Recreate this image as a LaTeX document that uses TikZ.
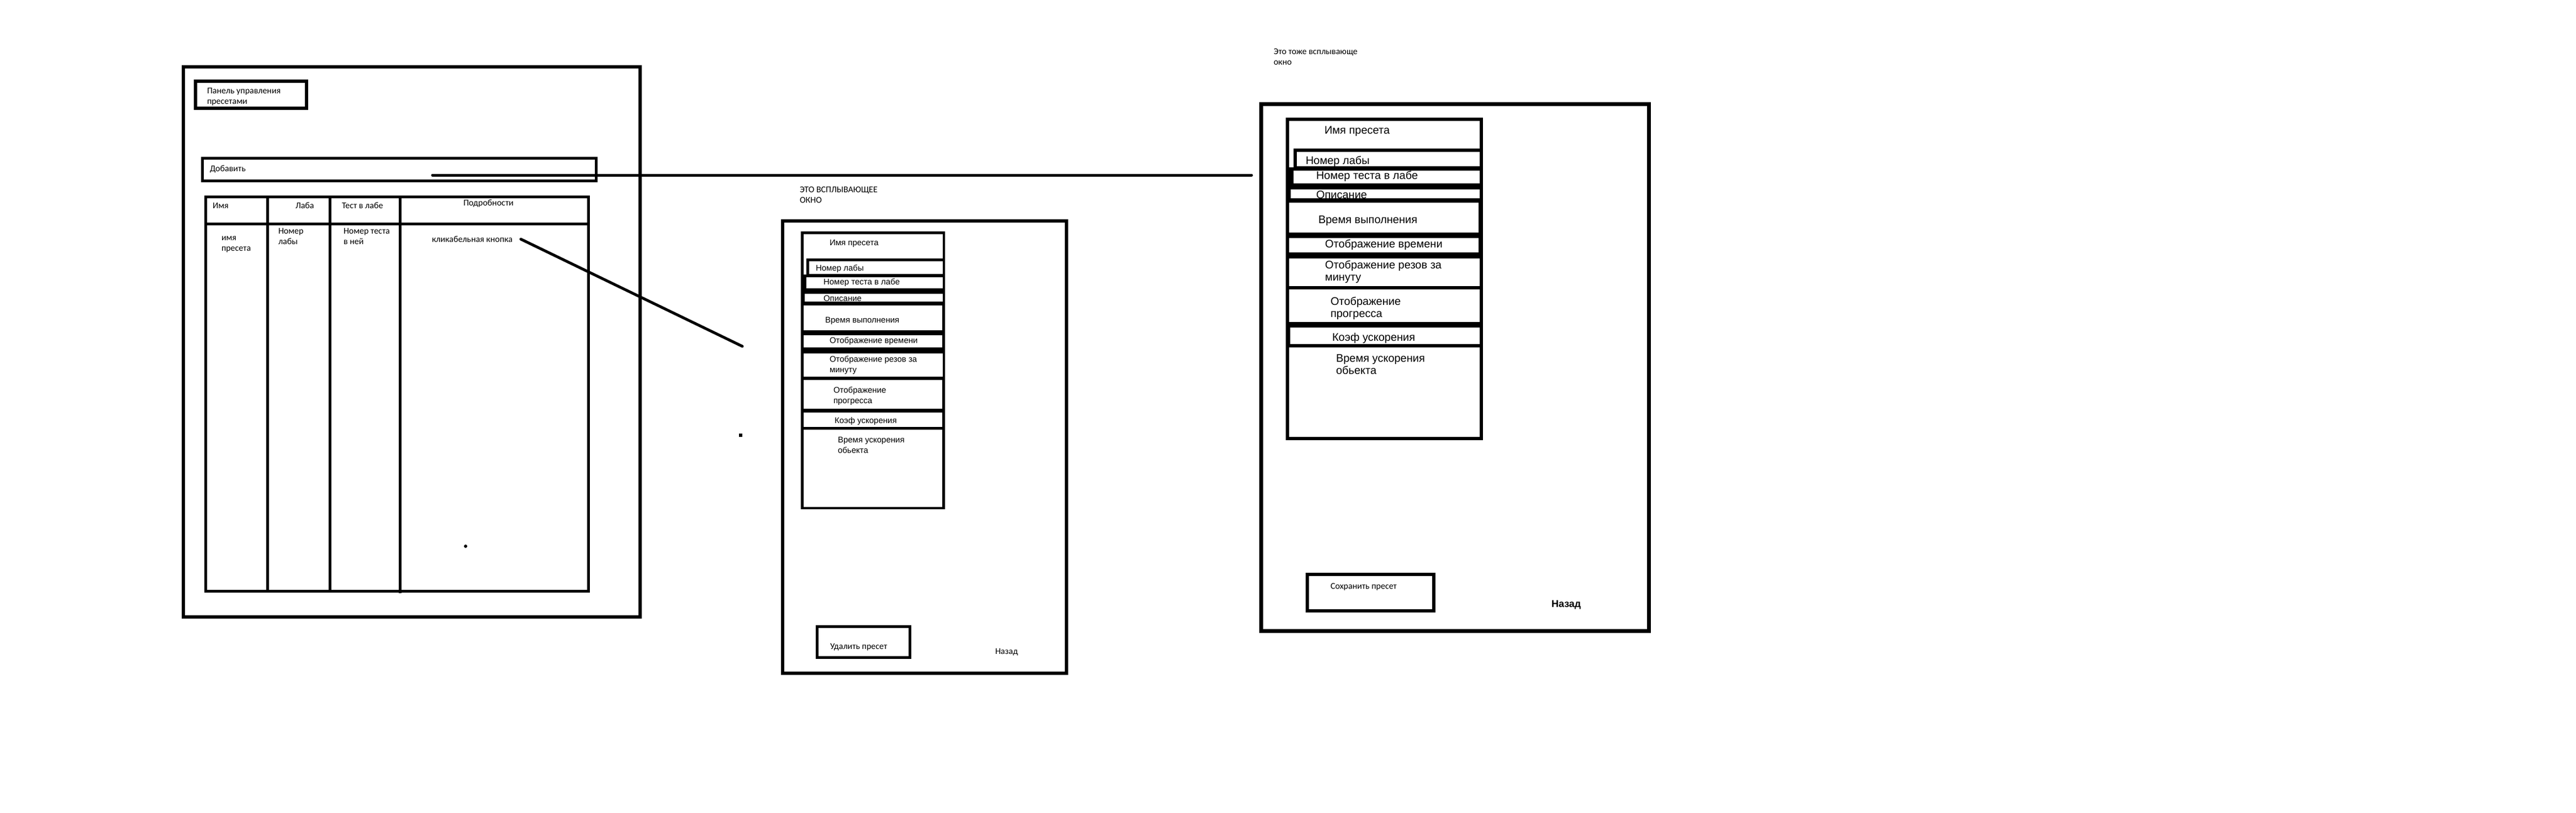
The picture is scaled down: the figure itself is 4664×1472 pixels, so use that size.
\documentclass[tikz,border=0pt]{standalone}
\usepackage{fontspec}
\setmainfont{Carlito}
\newfontfamily\lsans{Liberation Sans}
\newcommand\mkbox[6]{\node[#1, anchor=north west, minimum width={(#5-#3)*1pt}, minimum height={(#6-#4)*1pt}] (#2) at (#3,#4) {};}
\begin{document}
\begin{tikzpicture}[x=1pt,y=-1pt,
  shp/.style={inner sep=0pt, outer sep=0pt, rectangle},
  win/.style={shp, draw=black, line width=6pt},
  thinwin/.style={shp, draw=black, line width=5pt},
  thickwin/.style={shp, draw=black, line width=7pt},
  blk/.style={shp, fill=black},
  wht/.style={shp, fill=white},
  tline/.style={line width=5pt},
  wire/.style={line width=5pt, line cap=round},
  lbl/.style={inner sep=0pt, outer sep=0pt, anchor=west, align=left, font=\fontsize{16}{19}\selectfont},
  itma/.style={lbl, font=\lsans\fontsize{15}{19}\selectfont},
  itmb/.style={lbl, font=\lsans\fontsize{20}{22}\selectfont},
  backbold/.style={lbl, font=\lsans\bfseries\fontsize{18}{22}\selectfont}]
\fill[white] (0,0) rectangle (4664,1472);
\path[use as bounding box] (0,0) rectangle (4664,1472);

% ---------- main window ----------
\mkbox{win}{main}{332}{121}{1159}{1117}
\mkbox{win}{title}{354}{147}{555}{196}
\node[lbl] (titletxt) at (375,175) {Панель управления\\пресетами};
\mkbox{thinwin}{add}{366}{286}{1079}{327}
\node[lbl] (addtxt) at (380,306) {Добавить};
\mkbox{thinwin}{tbl}{372}{356}{1065}{1070}
\draw[tline] (372,405) -- (1065,405);
\draw[tline] (484,356) -- (484,1070);
\draw[tline] (597,356) -- (597,1070);
\draw[tline] (724,356) -- (724,1074);
\node[lbl] (h1) at (385,372) {Имя};
\node[lbl] (h2) at (535,372) {Лаба};
\node[lbl] (h3) at (619,372) {Тест в лабе};
\node[lbl] (h4) at (839,368) {Подробности};
\node[lbl] (c1) at (401,442) {имя\\пресета};
\node[lbl] (c2) at (504,428) {Номер\\лабы};
\node[lbl] (c3) at (622,428) {Номер теста\\в ней};
\node[lbl] (klik) at (782,433) {кликабельная кнопка};
\fill (843,989) circle (3pt);

% ---------- popup 1 ----------
\node[lbl] (p1lbl) at (1448,353) {ЭТО ВСПЛЫВАЮЩЕЕ\\ОКНО};
\mkbox{win}{p1}{1417}{400}{1931}{1219}
\mkbox{blk}{l1}{1450}{419}{1711}{922}
\mkbox{wht}{a1}{1455}{424}{1707}{468}
\mkbox{wht}{a1s}{1455}{466}{1460}{497}
\mkbox{wht}{a2}{1465}{473}{1707}{496}
\mkbox{wht}{a3}{1460}{502}{1707}{522}
\mkbox{wht}{a4}{1457}{532}{1707}{546}
\mkbox{wht}{a5}{1455}{553}{1706}{598}
\mkbox{wht}{a6}{1455}{607}{1706}{629}
\mkbox{wht}{a7}{1455}{640}{1707}{682}
\mkbox{wht}{a8}{1455}{688}{1706}{740}
\mkbox{wht}{a9}{1455}{747}{1706}{773}
\mkbox{wht}{a10}{1455}{778}{1706}{918}
\node[itma] (t1) at (1502,441) {Имя пресета};
\node[itma] (t2) at (1477,487) {Номер лабы};
\node[itma] (t3) at (1491,512) {Номер теста в лабе};
\node[itma] (t4) at (1491,540) {Описание};
\node[itma] (t5) at (1494,581) {Время выполнения};
\node[itma] (t6) at (1502,618) {Отображение времени};
\node[itma] (t7) at (1502,661) {Отображение резов за\\минуту};
\node[itma] (t8) at (1509,717) {Отображение\\прогресса};
\node[itma] (t9) at (1511,763) {Коэф ускорения};
\node[itma] (t10) at (1517,806) {Время ускорения\\обьекта};
\mkbox{thinwin}{del}{1479}{1134}{1647}{1190}
\node[lbl] (deltxt) at (1503,1172) {Удалить пресет};
\node[lbl] (back1) at (1802,1181) {Назад};
\fill (1338,785) rectangle (1344,791);

% ---------- popup 2 ----------
\node[lbl] (p2lbl) at (2306,103) {Это тоже всплывающе\\окно};
\mkbox{thickwin}{p2}{2283}{188}{2985}{1142}
\mkbox{blk}{l2}{2328}{213}{2685}{797}
\mkbox{wht}{b1}{2334}{219}{2679}{269}
\mkbox{wht}{b1s}{2334}{267}{2342}{303}
\mkbox{wht}{b2}{2348}{275}{2679}{301}
\mkbox{wht}{b3}{2342}{309}{2679}{332}
\mkbox{wht}{b4}{2337}{343}{2679}{359}
\mkbox{wht}{b5}{2334}{367}{2677}{421}
\mkbox{wht}{b6}{2334}{431}{2677}{457}
\mkbox{wht}{b7}{2334}{468}{2679}{518}
\mkbox{wht}{b8}{2334}{524}{2679}{583}
\mkbox{wht}{b9}{2336}{593}{2679}{623}
\mkbox{wht}{b10}{2334}{629}{2679}{791}
\node[itmb] (u1) at (2398,238) {Имя пресета};
\node[itmb] (u2) at (2364,292) {Номер лабы};
\node[itmb] (u3) at (2383,319) {Номер теста в лабе};
\node[itmb] (u4) at (2383,353) {Описание};
\node[itmb] (u5) at (2387,400) {Время выполнения};
\node[itmb] (u6) at (2399,443) {Отображение времени};
\node[itmb] (u7) at (2399,492) {Отображение резов за\\минуту};
\node[itmb] (u8) at (2409,558) {Отображение\\прогресса};
\node[itmb] (u9) at (2412,612) {Коэф ускорения};
\node[itmb] (u10) at (2419,660) {Время ускорения\\обьекта};
\mkbox{win}{save}{2367}{1040}{2596}{1106}
\node[lbl] (savetxt) at (2409,1063) {Сохранить пресет};
\node[backbold] (back2) at (2809,1095) {Назад};

% ---------- connectors ----------
\coordinate (addfrom) at (783,317);
\draw[wire, shorten >=17pt] (addfrom) -- (addfrom -| p2.west);
\coordinate (klikend) at (943,433);
\coordinate (diagend) at (1344,627);
\draw[wire] (klikend) -- (diagend);
\end{tikzpicture}
\end{document}
